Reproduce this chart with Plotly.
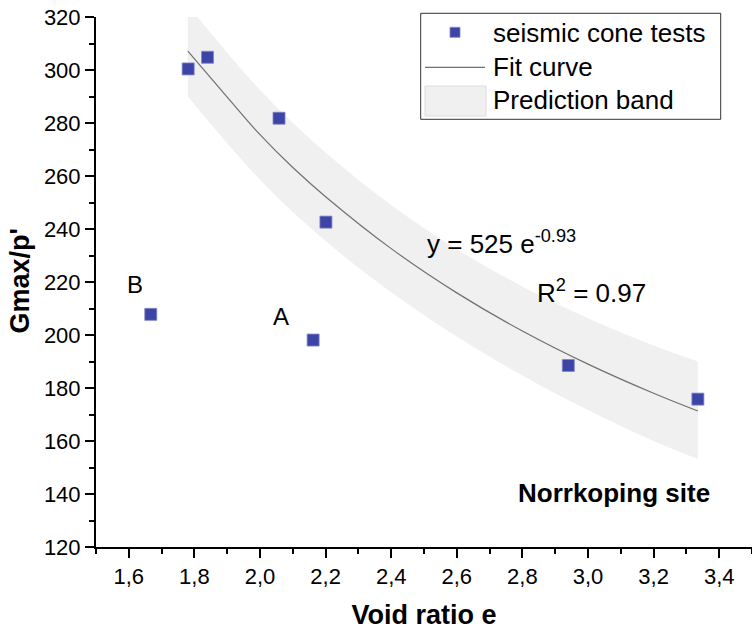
import plotly.graph_objects as go

# Data points (void ratio e, Gmax/p')
e_pts = [1.781, 1.840, 2.058, 2.201, 2.940, 3.335, 2.162, 1.667]
g_pts = [300.4, 304.8, 281.8, 242.6, 188.5, 175.8, 198.1, 207.8]

# Fit curve y = 525 e^-0.93
fit_e = [1.78, 1.9, 2.0, 2.1, 2.2, 2.4, 2.6, 2.8, 3.0, 3.2, 3.335]
fit_g = [307.1, 289.8, 275.6, 263.2, 252.2, 232.6, 215.9, 201.5, 189.0, 178.0, 171.3]

# Prediction band
band_e = [1.78, 2.0, 2.2, 2.4, 2.6, 2.8, 3.0, 3.2, 3.335]
band_hi = [324.5, 292.5, 268.9, 249.1, 232.4, 218.3, 206.3, 196.0, 190.0]
band_lo = [290.0, 258.6, 235.5, 216.1, 199.4, 184.7, 171.7, 160.0, 153.2]

x_ticks = [1.6, 1.8, 2.0, 2.2, 2.4, 2.6, 2.8, 3.0, 3.2, 3.4]
x_labels = ["1,6", "1,8", "2,0", "2,2", "2,4", "2,6", "2,8", "3,0", "3,2", "3,4"]
y_ticks = [120, 140, 160, 180, 200, 220, 240, 260, 280, 300, 320]

legend_labels = ["seismic cone tests", "Fit curve", "Prediction band"]

FONT = "Liberation Sans, Arial, sans-serif"
BLUE = "#3c45a6"
BAND = "#f0f0f0"
FITC = "#707070"
TS = 26  # text size for legend / annotations

# plot area in pixels: left 96, right 752, top 17, bottom 547
L, R, T, B = 96, 752, 17, 547
def px(x):
    return (x - L) / (R - L)
def py(y):
    return (B - y) / (B - T)

fig = go.Figure()

fig.add_trace(go.Scatter(x=band_e, y=band_lo, mode="lines", line=dict(width=0, color=BAND, shape="spline"),
                         showlegend=False, hoverinfo="skip"))
fig.add_trace(go.Scatter(x=band_e, y=band_hi, mode="lines", line=dict(width=0, color=BAND, shape="spline"),
                         fill="tonexty", fillcolor=BAND, name=legend_labels[2], showlegend=False))
fig.add_trace(go.Scatter(x=fit_e, y=fit_g, mode="lines", line=dict(color=FITC, width=1.2, shape="spline"),
                         name=legend_labels[1], showlegend=False))
fig.add_trace(go.Scatter(x=e_pts, y=g_pts, mode="markers",
                         marker=dict(symbol="square", size=12, color=BLUE, line=dict(color="#7f86c8", width=0.8)),
                         name=legend_labels[0], showlegend=False))

fig.update_layout(
    width=752, height=631,
    margin=dict(l=L, r=752 - R, t=T, b=631 - B),
    plot_bgcolor="white", paper_bgcolor="white",
    font=dict(family=FONT, color="black"),
    showlegend=False,
    xaxis=dict(range=[1.5, 3.5], tickvals=x_ticks, ticktext=x_labels,
               ticks="outside", ticklen=9, tickwidth=2, tickcolor="black",
               showline=True, linecolor="black", linewidth=2, showgrid=False, zeroline=False,
               tickfont=dict(size=22, family=FONT),
               minor=dict(dtick=0.1, tick0=1.5, ticks="outside", ticklen=5, tickwidth=2, tickcolor="black"),
               title=dict(text="<b>Void ratio e</b>", font=dict(size=27, family=FONT), standoff=17)),
    yaxis=dict(range=[120, 320], tickvals=y_ticks,
               ticks="outside", ticklen=9, tickwidth=2, tickcolor="black",
               showline=True, linecolor="black", linewidth=2, showgrid=False, zeroline=False,
               tickfont=dict(size=22, family=FONT),
               minor=dict(dtick=10, ticks="outside", ticklen=5, tickwidth=2, tickcolor="black")),
)

# y-axis title as rotated annotation for precise placement
fig.add_annotation(xref="paper", yref="paper", x=px(19.5), y=py(281), text="<b>Gmax/p'</b>", textangle=-90,
                   showarrow=False, xanchor="center", yanchor="middle", font=dict(size=27, family=FONT))

# manual legend
fig.add_shape(type="rect", xref="paper", yref="paper", x0=px(420.7), x1=px(720.7), y0=py(119.3), y1=py(13.3),
              line=dict(color="#333333", width=1), fillcolor="white", layer="above")
fig.add_shape(type="rect", xref="paper", yref="paper", x0=px(450), x1=px(460), y0=py(37.3), y1=py(27.3),
              line=dict(color="#7f86c8", width=0.8), fillcolor=BLUE, layer="above")
fig.add_shape(type="line", xref="paper", yref="paper", x0=px(425), x1=px(485), y0=py(67.3), y1=py(67.3),
              line=dict(color=FITC, width=1.2), layer="above")
fig.add_shape(type="rect", xref="paper", yref="paper", x0=px(425), x1=px(486), y0=py(116), y1=py(86),
              line=dict(color="#dcdcdc", width=1), fillcolor=BAND, layer="above")
for lab, yc in zip(legend_labels, [32.5, 66.5, 99.5]):
    fig.add_annotation(xref="paper", yref="paper", x=px(491), y=py(yc), text=lab, showarrow=False,
                       xanchor="left", yanchor="middle", font=dict(size=TS, family=FONT))

fig.add_annotation(x=1.62, y=218.9, text="B", showarrow=False, xanchor="center", yanchor="middle",
                   font=dict(size=24, family=FONT))
fig.add_annotation(x=2.063, y=206.9, text="A", showarrow=False, xanchor="center", yanchor="middle",
                   font=dict(size=24, family=FONT))
fig.add_annotation(x=2.504, y=234.9, text="y = 525 e<sup>-0.93</sup>", showarrow=False, xanchor="left",
                   yanchor="middle", font=dict(size=TS, family=FONT))
fig.add_annotation(x=2.839, y=216.5, text="R<sup>2</sup> = 0.97", showarrow=False, xanchor="left",
                   yanchor="middle", font=dict(size=TS, family=FONT))
fig.add_annotation(xref="paper", yref="paper", x=px(614), y=py(493), text="<b>Norrkoping site</b>",
                   showarrow=False, xanchor="center", yanchor="middle", font=dict(size=26, family=FONT))

fig.write_html("out.html")
